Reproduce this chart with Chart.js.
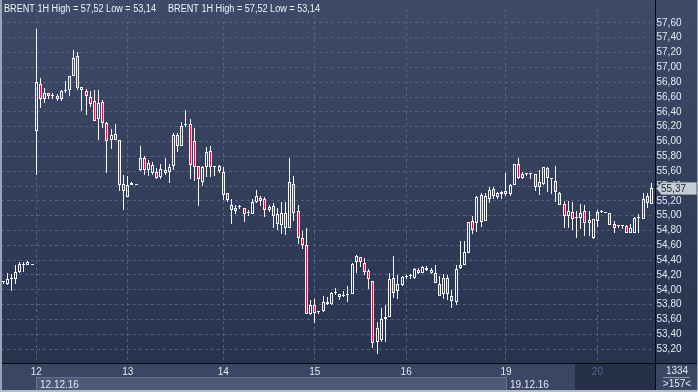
<!DOCTYPE html>
<html>
<head>
<meta charset="utf-8">
<script src="https://cdn.jsdelivr.net/npm/chart.js@4.4.0/dist/chart.umd.min.js"></script>
<style>
  html, body { margin: 0; padding: 0; background: #2c3753; }
  #wrap { width: 698px; height: 392px; position: relative; }
</style>
</head>
<body>
<div id="wrap"><canvas id="chart" width="698" height="392"></canvas></div>
<script>
// BRENT 1H candles, 09.12.16 (tail) .. 20.12.16
const opens = [
  54.10, 54.08, 54.16, 54.15, 54.24, 54.35, 54.33, 54.34,
  56.14, 56.78, 56.58, 56.66, 56.62, 56.62, 56.57, 56.68, 56.70, 56.89, 57.15, 56.74,
  56.68, 56.60, 56.54, 56.30, 56.53, 56.25, 56.02, 56.10, 56.02, 55.43,
  55.25, 55.42, 55.42, 55.62, 55.78, 55.62, 55.58, 55.59, 55.52, 55.61, 55.59, 55.67,
  56.09, 55.94, 56.22, 56.24, 56.01, 55.67, 55.45, 55.66, 55.87, 55.65, 55.60,
  55.59, 55.30, 55.14, 55.06, 55.12, 55.10, 55.03, 55.02, 55.19, 55.24, 55.23, 55.08,
  55.13, 54.89, 54.88, 55.04, 54.83, 55.43, 55.06, 54.70, 54.60, 53.68,
  53.79, 53.70, 53.71, 53.83, 53.81, 53.96, 53.95, 53.92, 53.93, 53.95, 54.38, 54.44,
  54.36, 54.26, 54.12, 53.29, 53.32, 53.60, 53.63, 54.16, 53.98, 54.07,
  54.17, 54.18, 54.16, 54.27, 54.23, 54.30, 54.27, 54.23, 54.08, 53.95, 54.16, 53.92,
  53.83, 54.30, 54.33, 54.50, 54.93, 54.90, 55.28, 54.93, 55.23, 55.36, 55.25, 55.29,
  55.29, 55.29, 55.42, 55.69, 55.51, 55.56, 55.56, 55.56, 55.39, 55.43, 55.64, 55.50,
  55.47, 55.31, 55.16, 55.00, 55.05, 54.97, 54.97, 55.06, 54.90, 54.70,
  54.93, 55.05, 55.04, 55.04, 54.89, 54.86, 54.86, 54.86, 54.77, 54.77, 54.97, 54.96,
  55.27, 55.16
]
const highs = [
  54.12, 54.23, 54.21, 54.34, 54.37, 54.37, 54.39, 54.35,
  57.52, 56.85, 56.72, 56.66, 56.66, 56.64, 56.70, 56.82, 56.88, 57.24, 57.21, 56.74,
  56.71, 56.68, 56.70, 56.69, 56.56, 56.26, 56.17, 56.24, 56.02, 55.55,
  55.54, 55.45, 55.43, 55.94, 55.81, 55.75, 55.72, 55.64, 55.69, 55.78, 55.70, 56.11,
  56.12, 56.26, 56.42, 56.30, 56.18, 55.67, 55.67, 55.92, 55.94, 55.66, 55.68,
  55.66, 55.30, 55.22, 55.14, 55.15, 55.10, 55.08, 55.23, 55.34, 55.26, 55.25, 55.14,
  55.17, 55.11, 55.18, 55.18, 55.78, 55.53, 55.14, 54.79, 54.84, 53.86,
  53.88, 53.72, 53.91, 53.90, 53.97, 54.02, 53.95, 53.98, 54.05, 54.36, 54.47, 54.44,
  54.43, 54.28, 54.12, 53.56, 53.76, 53.80, 54.23, 54.46, 54.20, 54.19,
  54.20, 54.21, 54.30, 54.29, 54.32, 54.32, 54.30, 54.33, 54.19, 54.21, 54.20, 54.00,
  54.34, 54.66, 54.66, 54.92, 55.00, 55.27, 55.30, 55.30, 55.38, 55.38, 55.32, 55.33,
  55.57, 55.43, 55.69, 55.78, 55.59, 55.58, 55.56, 55.56, 55.62, 55.66, 55.65, 55.50,
  55.67, 55.32, 55.20, 55.20, 55.18, 55.06, 55.16, 55.14, 55.06, 54.96,
  55.07, 55.07, 55.05, 55.04, 54.93, 54.88, 54.88, 54.87, 54.89, 54.98, 55.02, 55.30,
  55.30, 55.44
]
const lows = [
  54.08, 54.07, 53.99, 54.08, 54.22, 54.24, 54.33, 54.34,
  55.55, 56.45, 56.52, 56.58, 56.58, 56.54, 56.55, 56.66, 56.62, 56.89, 56.70, 56.41,
  56.36, 56.46, 56.28, 56.02, 56.18, 55.57, 55.90, 56.02, 55.33, 55.08,
  55.25, 55.41, 55.41, 55.60, 55.55, 55.54, 55.55, 55.49, 55.50, 55.55, 55.44, 55.61,
  55.86, 55.94, 56.20, 55.50, 55.47, 55.13, 55.40, 55.52, 55.52, 55.53, 55.58,
  55.21, 55.18, 54.89, 55.02, 55.09, 54.91, 54.99, 55.02, 55.17, 55.13, 54.98, 55.05,
  54.83, 54.80, 54.75, 54.74, 54.83, 54.93, 54.62, 54.55, 53.67, 53.66,
  53.55, 53.68, 53.70, 53.79, 53.80, 53.93, 53.86, 53.90, 53.83, 53.95, 54.23, 54.31,
  54.20, 54.01, 53.22, 53.14, 53.29, 53.30, 53.63, 53.89, 53.87, 54.05,
  54.15, 54.15, 54.14, 54.21, 54.22, 54.26, 54.21, 54.09, 53.91, 53.88, 53.86, 53.76,
  53.80, 54.28, 54.33, 54.50, 54.75, 54.78, 54.85, 54.93, 55.17, 55.23, 55.22, 55.22,
  55.26, 55.26, 55.42, 55.50, 55.50, 55.54, 55.50, 55.33, 55.28, 55.42, 55.32, 55.29,
  55.19, 55.15, 54.83, 54.83, 54.80, 54.70, 54.82, 54.73, 54.72, 54.68,
  54.85, 55.03, 55.04, 54.88, 54.76, 54.83, 54.82, 54.76, 54.76, 54.76, 54.77, 54.96,
  55.10, 55.16
]
const closes = [
  54.11, 54.15, 54.14, 54.24, 54.35, 54.33, 54.37, 54.34,
  56.80, 56.58, 56.65, 56.62, 56.62, 56.57, 56.68, 56.69, 56.88, 57.13, 56.72, 56.69,
  56.61, 56.51, 56.28, 56.52, 56.25, 56.01, 56.09, 56.02, 55.42, 55.33,
  55.42, 55.44, 55.42, 55.78, 55.62, 55.71, 55.68, 55.51, 55.63, 55.58, 55.66, 56.09,
  55.94, 56.21, 56.23, 55.68, 55.66, 55.49, 55.66, 55.86, 55.65, 55.65, 55.67,
  55.28, 55.21, 55.07, 55.11, 55.12, 55.02, 55.05, 55.19, 55.26, 55.20, 55.07, 55.12,
  55.00, 55.02, 55.03, 54.83, 55.45, 55.04, 54.70, 54.60, 53.68, 53.80,
  53.69, 53.70, 53.83, 53.81, 53.96, 53.96, 53.90, 53.92, 53.93, 54.35, 54.46, 54.38,
  54.24, 54.14, 53.28, 53.49, 53.60, 53.63, 54.15, 53.96, 54.08, 54.17,
  54.18, 54.18, 54.28, 54.23, 54.31, 54.27, 54.23, 54.09, 53.91, 54.16, 53.95, 53.85,
  54.28, 54.33, 54.51, 54.91, 54.80, 55.25, 54.92, 55.26, 55.34, 55.26, 55.30, 55.32,
  55.33, 55.42, 55.69, 55.51, 55.56, 55.56, 55.56, 55.38, 55.46, 55.65, 55.51, 55.50,
  55.32, 55.15, 54.99, 55.06, 54.96, 54.97, 55.04, 54.90, 54.94, 54.95,
  55.05, 55.05, 55.04, 54.88, 54.83, 54.86, 54.86, 54.77, 54.84, 54.97, 54.97, 55.23,
  55.17, 55.37
]

// first bar of each trading day and its label
const dayIndex = [8, 30, 53, 75, 97, 121, 143]
const dayNames = ['12', '13', '14', '15', '16', '19', '20']
// week bands on the time axis
const weekIndex = [8, 121]
const weekNames = ['12.12.16', '19.12.16']

const FONT = 'Liberation Sans'
const fmt = v => v.toFixed(2).replace('.', ',')
const candleWhite = '#f4f6fa'
const candleRed = '#e8123c'
const gridColor = '#56627e'

const labels = closes.map((c, i) => String(i))
const bodies = opens.map((o, i) => [Math.min(o, closes[i]), Math.max(o, closes[i])])
const upperWicks = opens.map((o, i) => [Math.max(o, closes[i]), highs[i]])
const lowerWicks = opens.map((o, i) => [lows[i], Math.min(o, closes[i])])
const bodyColors = opens.map((o, i) => closes[i] < o ? candleRed : 'rgba(0,0,0,0)')

// keep candles on whole pixels like the terminal does
const snapCandles = {
  id: 'snapCandles',
  beforeDatasetsDraw (chart) {
    chart.data.datasets.forEach((ds, d) => {
      chart.getDatasetMeta(d).data.forEach(bar => {
        bar.x = Math.floor(bar.x) + 0.5
        bar.y = Math.round(bar.y)
        bar.base = Math.round(bar.base)
        if (d === 0 && Math.abs(bar.base - bar.y) < 1) bar.base = bar.y + 1
      })
    })
  }
}

const backdrop = {
  id: 'backdrop',
  beforeDraw (chart) {
    const { ctx, chartArea: a, scales: { x } } = chart
    ctx.save()
    const g = ctx.createLinearGradient(0, 0, 0, a.bottom)
    g.addColorStop(0, '#3e4b68')
    g.addColorStop(1, '#28334e')
    ctx.fillStyle = g
    ctx.fillRect(0, 0, 698, a.bottom)
    // time axis band
    ctx.fillStyle = '#3a4663'
    ctx.fillRect(0, a.bottom, 698, 392 - a.bottom)
    // current day (scroll) box
    const boxLeft = Math.round(x.getPixelForValue(138)) - 2
    ctx.fillStyle = '#262f48'
    ctx.fillRect(boxLeft, a.bottom + 1, a.right + 2 - boxLeft, 27)
    // week band
    const w0 = Math.round(x.getPixelForValue(weekIndex[0]))
    const w1 = Math.round(x.getPixelForValue(weekIndex[1]))
    ctx.fillStyle = '#4c5975'
    ctx.fillRect(w0, 377, w1 - w0, 13)
    ctx.strokeStyle = '#66728d'
    ctx.lineWidth = 1
    ctx.strokeRect(w0 + 0.5, 377.5, w1 - w0, 13)
    ctx.restore()
  },
  afterDraw (chart) {
    const { ctx, scales: { x, y } } = chart
    ctx.save()
    // separators
    ctx.strokeStyle = '#05080f'
    ctx.lineWidth = 1
    ctx.beginPath()
    ctx.moveTo(655.5, 0)
    ctx.lineTo(655.5, 390)
    ctx.moveTo(0, 363.5)
    ctx.lineTo(698, 363.5)
    ctx.stroke()
    // frame
    ctx.fillStyle = '#9ba4b4'
    ctx.fillRect(0, 0, 2, 392)
    ctx.fillRect(697, 0, 1, 392)
    ctx.fillStyle = '#b4bcc8'
    ctx.fillRect(0, 390, 698, 2)

    // header
    const hi = fmt(Math.max(...highs))
    const lo = fmt(Math.min(...lows))
    const head = 'BRENT 1H High = ' + hi + ' Low = ' + lo
    ctx.font = '10px "' + FONT + '"'
    ctx.fillStyle = '#eef2f8'
    ctx.textBaseline = 'alphabetic'
    ctx.textAlign = 'left'
    ctx.fillText(head, 4, 12, 152)
    ctx.fillText(head, 168, 12, 152)

    // week labels
    ctx.fillStyle = '#e3e8f1'
    weekIndex.forEach((idx, k) => {
      ctx.fillText(weekNames[k], Math.round(x.getPixelForValue(idx)) + 4, 388)
    })

    // last price tag
    const last = closes[closes.length - 1]
    const py = Math.round(y.getPixelForValue(last))
    ctx.beginPath()
    ctx.moveTo(656.5, py + 0.5)
    ctx.lineTo(661.5, py - 5.5)
    ctx.lineTo(696.5, py - 5.5)
    ctx.lineTo(696.5, py + 6.5)
    ctx.lineTo(661.5, py + 6.5)
    ctx.closePath()
    ctx.fillStyle = '#c7ccd5'
    ctx.fill()
    ctx.strokeStyle = '#8b94a4'
    ctx.stroke()
    ctx.fillStyle = '#1d2538'
    ctx.textBaseline = 'middle'
    ctx.fillText(fmt(last), 661, py + 1)

    // bottom right counters
    ctx.textAlign = 'center'
    ctx.fillStyle = '#e3e8f1'
    ctx.fillText('1334', 677, 371)
    ctx.fillText('>' + closes.length + '<', 677, 384)
    ctx.fillStyle = '#8d97aa'
    ctx.fillRect(663, 377, 27, 1)
    ctx.restore()
  }
}

const config = {
  type: 'bar',
  data: {
    labels,
    datasets: [
      {
        data: bodies,
        backgroundColor: bodyColors,
        borderColor: candleWhite,
        borderWidth: 1,
        borderSkipped: false,
        barThickness: 3,
        minBarLength: 1,
        inflateAmount: 0,
        grouped: false
      },
      {
        data: upperWicks,
        backgroundColor: candleWhite,
        barThickness: 1,
        inflateAmount: 0,
        grouped: false
      },
      {
        data: lowerWicks,
        backgroundColor: candleWhite,
        barThickness: 1,
        inflateAmount: 0,
        grouped: false
      }
    ]
  },
  options: {
    responsive: false,
    animation: false,
    devicePixelRatio: 1,
    layout: { padding: { top: 6, left: 0, right: 0, bottom: 0 } },
    plugins: {
      legend: { display: false },
      tooltip: { enabled: false }
    },
    scales: {
      x: {
        type: 'category',
        offset: true,
        grid: {
          offset: false,
          drawTicks: false,
          color: ctx => dayIndex.includes(ctx.index) ? gridColor : 'rgba(0,0,0,0)'
        },
        border: { display: false, dash: [3, 3] },
        ticks: {
          autoSkip: false,
          maxRotation: 0,
          padding: 3,
          font: { family: FONT, size: 10 },
          color: ctx => ctx.index === dayIndex[dayIndex.length - 1] ? '#5b6884' : '#e3e8f1',
          callback: (v, i) => {
            const k = dayIndex.indexOf(i)
            return k < 0 ? '' : dayNames[k]
          }
        },
        afterFit: scale => { scale.height = 29 }
      },
      y: {
        position: 'right',
        min: 53.013,
        max: 57.787,
        grid: { drawTicks: false, color: gridColor },
        border: { display: false, dash: [3, 3] },
        ticks: {
          stepSize: 0.2,
          includeBounds: false,
          autoSkip: false,
          padding: 3,
          font: { family: FONT, size: 10 },
          color: '#e3e8f1',
          callback: v => fmt(v)
        },
        afterFit: scale => { scale.width = 44.5 }
      }
    }
  },
  plugins: [snapCandles, backdrop]
}

new Chart(document.querySelector('#chart'), config)
</script>
</body>
</html>
